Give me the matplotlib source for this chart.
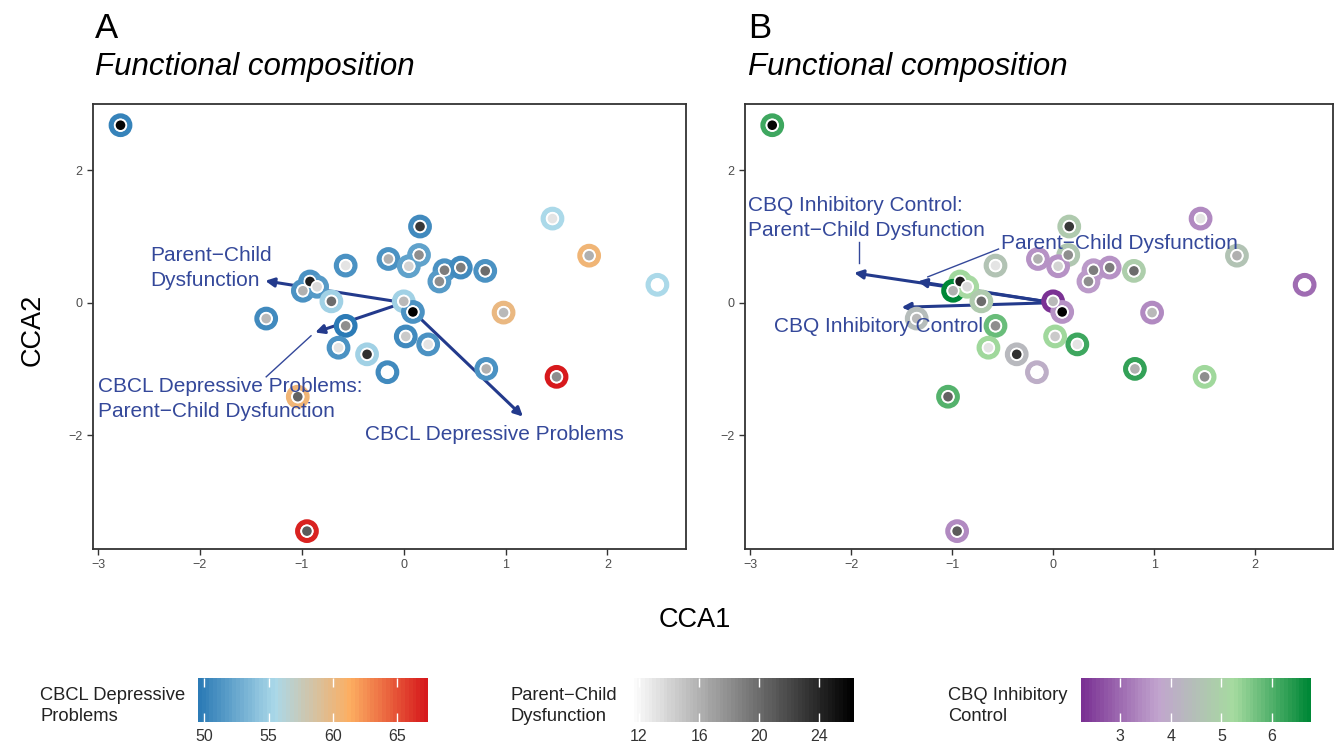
import numpy as np
import matplotlib
matplotlib.use("Agg")
import matplotlib.pyplot as plt
from matplotlib.colors import LinearSegmentedColormap

plt.rcParams['font.family'] = ['Liberation Sans', 'DejaVu Sans']

# site scores (CCA1, CCA2)
cca1 = [-2.78, 0.16, 1.46, 1.82, 2.49, -0.57, -0.15, 0.15, 0.05, 0.40, 0.35,
        0.56, 0.80, -0.92, -0.99, -0.85, -0.71, 0.00, 0.09, -1.35, -0.57,
        -0.64, -0.36, 0.02, 0.24, -0.16, 0.81, 1.50, 0.98, -1.04, -0.95]
cca2 = [2.68, 1.15, 1.27, 0.71, 0.27, 0.56, 0.66, 0.72, 0.55, 0.49, 0.32,
        0.53, 0.48, 0.32, 0.18, 0.24, 0.02, 0.02, -0.14, -0.24, -0.35,
        -0.68, -0.78, -0.51, -0.63, -1.05, -1.00, -1.12, -0.15, -1.42, -3.45]
# covariates
cbcl = [50, 50.5, 55.5, 60.5, 55.5, 51, 51, 52, 52, 51, 51.5,
        50.5, 51, 51, 51, 51.5, 55, 55, 51, 50.5, 49.5,
        51, 55, 50.5, 51, 50.5, 51, 67.4, 60, 60.5, 67]
pcd = [26, 23, 13, 16, 11.4, 13, 16, 18, 14, 19, 18,
       19, 20, 24.5, 16, 13.5, 20, 15.5, 26.3, 15.5, 18,
       13, 23.5, 14.5, 13, 11.5, 16, 18, 15.5, 20.5, 21]
cbq = [6.2, 4.8, 3.4, 4.6, 3.0, 4.6, 3.5, 4.7, 3.5, 3.6, 3.6,
       3.5, 4.9, 5.3, 6.77, 5.2, 4.8, 2.23, 3.5, 4.4, 5.8,
       5.3, 4.3, 5.3, 6.2, 4.0, 6.3, 5.3, 3.4, 6.0, 3.4]

# biplot arrows
arrows_a = {"CBCL Depressive Problems": (1.17, -1.72),
            "Parent-Child Dysfunction": (-1.36, 0.33),
            "CBCL:PCD": (-0.87, -0.45)}
arrows_b = {"CBQ Inhibitory Control": (-1.50, -0.07),
            "Parent-Child Dysfunction": (-1.34, 0.32),
            "CBQ:PCD": (-1.97, 0.45)}

cbcl_ticks = [50, 55, 60, 65]
pcd_ticks = [12, 16, 20, 24]
cbq_ticks = [3, 4, 5, 6]

cmap_cbcl = LinearSegmentedColormap.from_list("cbcl", ["#2c7bb6", "#abd9e9", "#fdae61", "#d7191c"])
cmap_pcd = LinearSegmentedColormap.from_list("pcd", ["#ffffff", "#000000"])
cmap_cbq = LinearSegmentedColormap.from_list("cbq", ["#7b3294", "#c2a5cf", "#a6dba0", "#008837"])

txtcol = "#34489a"
arrcol = "#233a8c"
lab_fs = 15
lab_ls = 1.4

fig = plt.figure(figsize=(13.43, 7.5), dpi=100)
axA = fig.add_axes([0.06925, 0.268, 0.4415, 0.5933])
axB = fig.add_axes([0.5547, 0.268, 0.4378, 0.5933])


def draw_points(ax, outer, ocmap):
    lo, hi = min(outer), max(outer)
    ec = ocmap((np.array(outer) - lo) / (hi - lo))
    ax.scatter(cca1, cca2, s=180, facecolors="white", edgecolors=ec,
               linewidths=3.7, zorder=3)
    ax.scatter(cca1, cca2, s=66, c=pcd, cmap=cmap_pcd, vmin=min(pcd), vmax=max(pcd),
               edgecolors="white", linewidths=1.2, zorder=4)


def draw_arrows(ax, arrows):
    for name, (ex, ey) in arrows.items():
        ax.annotate("", xy=(ex, ey), xytext=(0, 0),
                    arrowprops=dict(arrowstyle="-|>", color=arrcol, lw=2.2,
                                    mutation_scale=13, shrinkA=0, shrinkB=0),
                    zorder=2)


def style_axes(ax):
    ax.set_xlim(-3.05, 2.77)
    ax.set_ylim(-3.72, 3.0)
    ax.set_xticks([-3, -2, -1, 0, 1, 2])
    ax.set_yticks([-2, 0, 2])
    for sp in ax.spines.values():
        sp.set_color("#333333")
        sp.set_linewidth(1.3)
    ax.tick_params(colors="#333333", labelcolor="#4d4d4d", labelsize=9, length=4, width=1)


draw_points(axA, cbcl, cmap_cbcl)
draw_arrows(axA, arrows_a)
style_axes(axA)
axA.text(-2.49, 0.53, "Parent\u2212Child\nDysfunction", color=txtcol, fontsize=lab_fs,
         ha="left", va="center", linespacing=lab_ls, zorder=5)
axA.text(0.89, -1.99, "CBCL Depressive Problems", color=txtcol, fontsize=lab_fs,
         ha="center", va="center", zorder=5)
axA.text(-3.0, -1.45, "CBCL Depressive Problems:\nParent\u2212Child Dysfunction", color=txtcol,
         fontsize=lab_fs, ha="left", va="center", linespacing=lab_ls, zorder=5)
axA.plot([-1.35, -0.91], [-1.12, -0.50], color=txtcol, lw=1, zorder=5)

draw_points(axB, cbq, cmap_cbq)
draw_arrows(axB, arrows_b)
style_axes(axB)
axB.text(-3.02, 1.28, "CBQ Inhibitory Control:\nParent\u2212Child Dysfunction", color=txtcol,
         fontsize=lab_fs, ha="left", va="center", linespacing=lab_ls, zorder=5)
axB.plot([-1.92, -1.92], [0.92, 0.60], color=txtcol, lw=1, zorder=5)
axB.text(-0.52, 0.90, "Parent\u2212Child Dysfunction", color=txtcol, fontsize=lab_fs,
         ha="left", va="center", zorder=5)
axB.plot([-0.54, -1.24], [0.81, 0.39], color=txtcol, lw=1, zorder=5)
axB.text(-2.76, -0.36, "CBQ Inhibitory Control", color=txtcol, fontsize=lab_fs,
         ha="left", va="center", zorder=5)

# panel titles
for x, lab in [(0.0707, "A"), (0.557, "B")]:
    fig.text(x, 0.949, lab, fontsize=25, ha="left", va="baseline")
    fig.text(x, 0.9, "Functional composition", fontsize=22.5, style="italic",
             ha="left", va="baseline")

fig.text(0.5175, 1 - 620 / 750, "CCA1", fontsize=19.5, ha="center", va="center")
fig.text(33 / 1343, 1 - 330 / 750, "CCA2", fontsize=19.5, ha="center", va="center", rotation=90)


def colorbar(left, width, vals, cmap, ticks, title, title_x):
    cax = fig.add_axes([left, 0.0373, width, 0.0587])
    lo, hi = min(vals), max(vals)
    grad = np.linspace(lo, hi, 60).reshape(1, -1)
    cax.imshow(grad, cmap=cmap, vmin=lo, vmax=hi, aspect="auto",
               extent=[lo, hi, 0, 1], interpolation="nearest")
    cax.set_xlim(lo, hi)
    cax.set_ylim(0, 1)
    cax.vlines(ticks, 0, 0.2, color="white", lw=1)
    cax.vlines(ticks, 0.8, 1, color="white", lw=1)
    cax.set_xticks(ticks)
    cax.set_xticklabels([str(t) for t in ticks])
    cax.set_yticks([])
    cax.tick_params(length=0, labelsize=11.5, labelcolor="#333333", pad=5)
    for sp in cax.spines.values():
        sp.set_visible(False)
    fig.text(title_x, 0.0587, title, fontsize=13.2, ha="left", va="center",
             color="#222222", linespacing=1.3)


colorbar(198 / 1343, 230 / 1343, cbcl, cmap_cbcl, cbcl_ticks, "CBCL Depressive\nProblems", 40 / 1343)
colorbar(630 / 1343, 224 / 1343, pcd, cmap_pcd, pcd_ticks, "Parent\u2212Child\nDysfunction", 510 / 1343)
colorbar(1081 / 1343, 230 / 1343, cbq, cmap_cbq, cbq_ticks, "CBQ Inhibitory\nControl", 948 / 1343)

fig.savefig("out.png", dpi=100)
